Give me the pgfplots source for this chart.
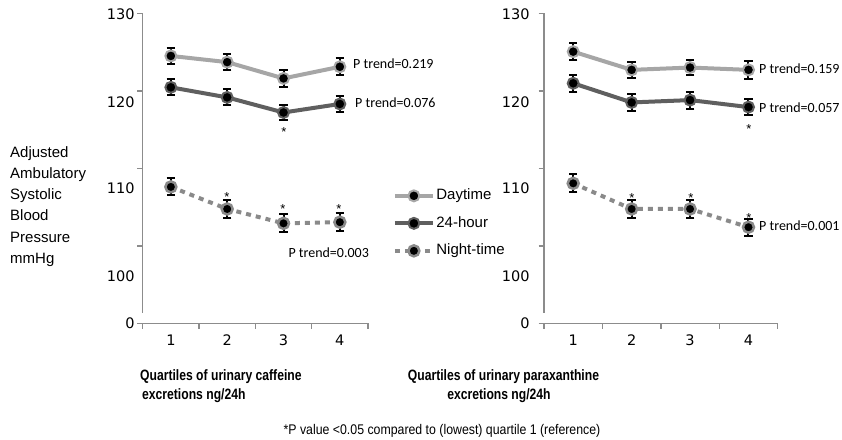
\documentclass[border=0pt]{standalone}
\usepackage{pgfplots}
\pgfplotsset{compat=1.18}
\usepackage{fontspec}
\setmainfont{Liberation Sans}
\newfontfamily\carl{Carlito}
\newfontfamily\dv{DejaVu Sans}
\newfontfamily\narrowA[FakeStretch=0.81]{Liberation Sans}
\newfontfamily\narrowB[FakeStretch=0.88]{Liberation Sans}
\definecolor{daygray}{HTML}{A6A6A6}
\definecolor{hourgray}{HTML}{5F5F5F}
\definecolor{nightgray}{HTML}{8A8A8A}
\definecolor{axisgray}{HTML}{8C8C8C}
\newcommand\tickfont{\dv\fontsize{14.5bp}{16bp}\selectfont}
\newcommand\legfont{\fontsize{15bp}{18bp}\selectfont}
\newcommand\pfont{\carl\fontsize{14bp}{16bp}\selectfont}
\pgfplotsset{
  panel/.style={scale only axis, height=310bp, ymin=90, ymax=130, xmin=0.5, xmax=4.5, clip=false,
    axis x line*=bottom, axis y line*=left, axis line style={draw=none},
    tick align=outside, major tick length=5.5bp, tick style={axisgray, line width=1.5bp},
    xtick={0.5,1.5,2.5,3.5,4.5}, xticklabels={,,,,},
    ytick={90,100,110,120,130}, yticklabels={,,,,},
    extra x ticks={1,2,3,4}, extra x tick labels={1,2,3,4},
    extra y ticks={129.82,118.59,107.46,96.1,90}, extra y tick labels={130,120,110,100,0},
    extra x tick style={major tick length=0pt, tick style={draw=none}, xticklabel style={yshift=-8.3bp}},
    extra y tick style={major tick length=0pt, tick style={draw=none}},
    ticklabel style={font=\tickfont},
  },
  errs/.style={error bars/y dir=both, error bars/y explicit,
    error bars/error bar style={solid, black, line width=2bp},
    error bars/error mark options={solid, rotate=90, mark size=4.2bp, line width=2bp, black}},
  day/.style={draw=daygray, line width=4bp, mark=*, mark size=5.5bp, mark options={solid, fill=black, draw=daygray, line width=2bp}},
  hour/.style={draw=hourgray, line width=4bp, mark=*, mark size=5.5bp, mark options={solid, fill=black, draw=hourgray, line width=2bp}},
  night/.style={draw=nightgray, line width=4bp, dash pattern=on 5bp off 5bp, mark=*, mark size=5.5bp, mark options={solid, fill=black, draw=nightgray, line width=2.5bp}},
}
\begin{document}
\begin{tikzpicture}
\useasboundingbox (0,0) rectangle (842bp,440bp);
% ---------- left panel ----------
\begin{axis}[panel, at={(142.7bp,116.7bp)}, anchor=south west, width=225.3bp,
  yticklabel style={xshift=-4.6bp},
  legend style={draw=none, fill=none, at={(1.1096,0.4384)}, anchor=north west, inner sep=0pt,
    row sep=11bp, font=\legfont, nodes={text height=10.5bp, text depth=3bp, inner sep=1.5bp}},
  legend cell align=left,
  legend image code/.code={\draw[mark repeat=2,mark phase=2,#1] plot coordinates {(0bp,0bp) (19bp,0bp) (38bp,0bp)};}]
\draw[axisgray, line width=1.5bp] (axis cs:0.5,91.33) -- (axis cs:0.5,130);
\draw[axisgray, line width=1.5bp] (axis cs:0.5,90) -- (axis cs:4.5,90);
\addplot[day, errs] coordinates {(1,124.5) +- (0,1.0) (2,123.7) +- (0,1.0) (3,121.6) +- (0,1.05) (4,123.1) +- (0,1.1)};
\addlegendentry{Daytime}
\addplot[hour, errs] coordinates {(1,120.45) +- (0,1.03) (2,119.15) +- (0,1.03) (3,117.2) +- (0,1.03) (4,118.3) +- (0,1.03)};
\addlegendentry{24-hour}
\addplot[night, errs] coordinates {(1,107.6) +- (0,1.1) (2,104.75) +- (0,1.14) (3,102.9) +- (0,1.14) (4,103.05) +- (0,1.14)};
\addlegendentry{Night-time}
\end{axis}
% ---------- right panel ----------
\begin{axis}[panel, at={(544bp,116.7bp)}, anchor=south west, width=233.7bp,
  yticklabel style={xshift=-10.9bp}]
\draw[axisgray, line width=1.5bp] (axis cs:0.5,91.33) -- (axis cs:0.5,130);
\draw[axisgray, line width=1.5bp] (axis cs:0.5,90) -- (axis cs:4.5,90);
\addplot[day, errs] coordinates {(1,125.05) +- (0,1.1) (2,122.7) +- (0,1.0) (3,123.0) +- (0,1.0) (4,122.7) +- (0,1.15)};
\addplot[hour, errs] coordinates {(1,120.97) +- (0,1.1) (2,118.5) +- (0,1.05) (3,118.8) +- (0,1.1) (4,117.9) +- (0,1.0)};
\addplot[night, errs] coordinates {(1,108.06) +- (0,1.15) (2,104.75) +- (0,1.15) (3,104.75) +- (0,1.15) (4,102.4) +- (0,1.1)};
\end{axis}
% ---------- annotations ----------
\foreach \t/\yy in {Adjusted/282.3, Ambulatory/261.2, Systolic/240.1, Blood/219, Pressure/197.9, mmHg/176.8}
  \node[anchor=base west, inner sep=0pt, font=\fontsize{15bp}{18bp}\selectfont] at (10bp,\yy bp) {\t};
\node[anchor=west, inner sep=0pt, font=\pfont] at (353bp,376.2bp) {P trend=0.219};
\node[anchor=west, inner sep=0pt, font=\pfont] at (355bp,337.3bp) {P trend=0.076};
\node[anchor=west, inner sep=0pt, font=\pfont] at (288.3bp,187.3bp) {P trend=0.003};
\node[anchor=west, inner sep=0pt, font=\pfont] at (759bp,371bp) {P trend=0.159};
\node[anchor=west, inner sep=0pt, font=\pfont] at (759bp,332.7bp) {P trend=0.057};
\node[anchor=west, inner sep=0pt, font=\pfont] at (759bp,214bp) {P trend=0.001};
\foreach \xx/\yy in {284/303.6, 227/238.3, 283/226, 339/226, 749/306.6, 632/237.6, 691/237.6, 749/217.6}
  \node[anchor=base, inner sep=0pt, font=\fontsize{13bp}{15bp}\selectfont] at (\xx bp,\yy bp) {*};
\node[anchor=base west, inner sep=0pt, font=\narrowA\bfseries\fontsize{15bp}{18bp}\selectfont] at (140bp,59.3bp) {Quartiles of urinary caffeine};
\node[anchor=base west, inner sep=0pt, font=\narrowA\bfseries\fontsize{15bp}{18bp}\selectfont] at (142bp,40.7bp) {excretions ng/24h};
\node[anchor=base, inner sep=0pt, font=\narrowA\bfseries\fontsize{15bp}{18bp}\selectfont] at (503.5bp,59.3bp) {Quartiles of urinary paraxanthine};
\node[anchor=base, inner sep=0pt, font=\narrowA\bfseries\fontsize{15bp}{18bp}\selectfont] at (499bp,40.7bp) {excretions ng/24h};
\node[anchor=base, inner sep=0pt, font=\narrowB\fontsize{14bp}{16bp}\selectfont] at (442bp,6bp) {*P value <0.05 compared to (lowest) quartile 1 (reference)};
\end{tikzpicture}
\end{document}
